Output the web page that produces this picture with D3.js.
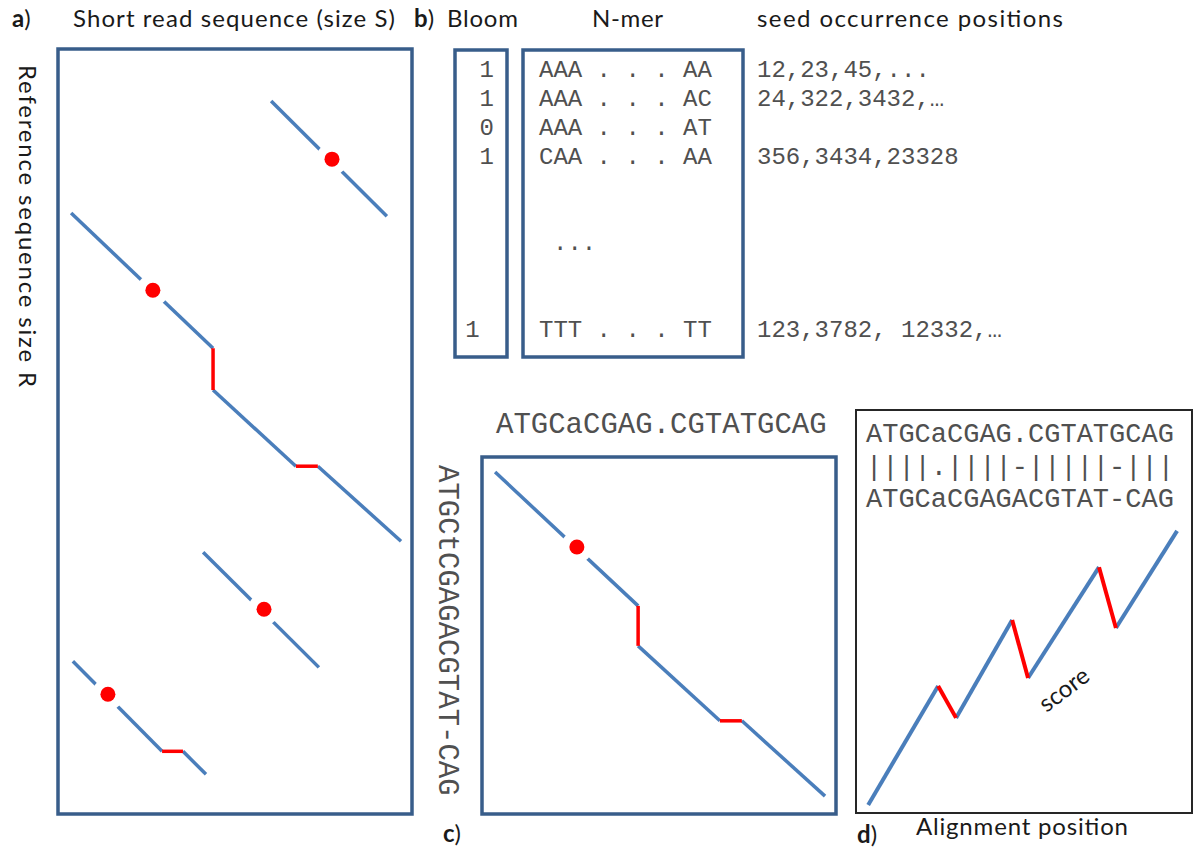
<!DOCTYPE html>
<html lang="en">
<head>
<meta charset="UTF-8" />
<title>Seed and extend alignment</title>
<script src="https://d3js.org/d3.v7.min.js"></script>
<style>
  body { margin: 0; background: #fff; }
  .lbl { font-family: Lato, "Open Sans", sans-serif; font-size: 24px; fill: #1a1a1a; }
  .mono { font-family: "Liberation Mono", "Courier New", monospace; fill: #505050; white-space: pre; }
  .frame { fill: none; stroke: #385d8a; stroke-width: 3.5; }
</style>
</head>
<body>
<script>
// ---- panel b: index table ----
var bloomBits = ["1", "1", "0", "1", "1 "];
var nmers = ["AAA . . . AA", "AAA . . . AC", "AAA . . . AT", "CAA . . . AA", "TTT . . . TT"];
var seedPositions = ["12,23,45,...", "24,322,3432,\u2026", "", "356,3434,23328", "123,3782, 12332,\u2026"];
var tableRows = [0, 1, 2, 3, 9];   // row slots, the gap is the "..." part

// ---- panel a: alignments of the read (x = read pos, y = reference pos) ----
// kinds: m = matching stretch (blue), g = indel (red)
var readHits = [
  { pts: [[60.2, 14.7], [92.9, 47.2]], kinds: ["m"], seed: [77.4, 31.1] },
  { pts: [[3.7, 46.3], [43.8, 84.5], [43.8, 96.3], [67.2, 117.8], [73.4, 117.8], [96.9, 139.0]],
    kinds: ["m", "g", "m", "g", "m"], seed: [26.8, 68.1] },
  { pts: [[41.0, 142.1], [73.7, 174.6]], kinds: ["m"], seed: [58.2, 158.2] },
  { pts: [[4.2, 172.9], [29.4, 198.3], [35.3, 198.3], [41.8, 204.8]],
    kinds: ["m", "g", "m"], seed: [14.1, 182.2] }
];

// ---- panel c: one alignment zoomed ----
var readSeq = "ATGCaCGAG.CGTATGCAG";
var refSeq = "ATGCtCGAGACGTAT-CAG";
var zoomHit = { pts: [[3.7, 4.2], [44.1, 41.7], [44.1, 52.9], [67.2, 73.9], [73.4, 73.9], [96.9, 95.0]],
  kinds: ["m", "g", "m", "g", "m"], seed: [26.8, 25.2] };

// ---- panel d: score along the alignment ----
var alignLines = ["ATGCaCGAG.CGTATGCAG", "||||.||||-|||||-|||", "ATGCaCGAGACGTAT-CAG"];
var alignPos = [3.6, 24.3, 29.6, 46.2, 50.9, 71.9, 76.9, 95.0];
var alignScore = [2.0, 31.5, 23.6, 47.9, 33.5, 61.0, 45.9, 70.0];
var scoreKinds = ["m", "g", "m", "g", "m", "g", "m"];

var W = 1194, H = 847;
var blue = "#4a7ebb", red = "#ff0000";

var svg = d3.select("body").append("svg")
    .attr("width", W).attr("height", H);

function label(x, y, bold, rest) {
  var t = svg.append("text").attr("class", "lbl").attr("x", x).attr("y", y);
  t.append("tspan").attr("font-weight", "bold").text(bold);
  t.append("tspan").text(rest);
  return t;
}

function drawHit(g, hit, xs, ys, w) {
  var segs = hit.kinds.map(function (k, i) { return { k: k, a: hit.pts[i], b: hit.pts[i + 1] }; });
  // blue first, red on top
  segs.sort(function (p, q) { return p.k === q.k ? 0 : (p.k === "m" ? -1 : 1); });
  g.selectAll(null).data(segs).enter().append("line")
    .attr("x1", function (d) { return xs(d.a[0]); })
    .attr("y1", function (d) { return ys(d.a[1]); })
    .attr("x2", function (d) { return xs(d.b[0]); })
    .attr("y2", function (d) { return ys(d.b[1]); })
    .attr("stroke", function (d) { return d.k === "m" ? blue : red; })
    .attr("stroke-width", w);
  if (hit.seed) {
    g.append("circle").attr("cx", xs(hit.seed[0])).attr("cy", ys(hit.seed[1]))
      .attr("r", 16).attr("fill", "#fff");
    g.append("circle").attr("cx", xs(hit.seed[0])).attr("cy", ys(hit.seed[1]))
      .attr("r", 7.5).attr("fill", red);
  }
}

// ================= panel a =================
var xA = d3.scaleLinear().domain([0, 100]).range([58, 412]);
var yA = d3.scaleLinear().domain([0, 216]).range([49, 814]);

label(12, 27, "a", ")");
svg.append("text").attr("class", "lbl").attr("x", 73).attr("y", 27)
  .attr("textLength", 322).attr("lengthAdjust", "spacing")
  .text("Short read sequence (size S)");
svg.append("text").attr("class", "lbl")
  .attr("transform", "translate(19,65) rotate(90)")
  .attr("textLength", 322).attr("lengthAdjust", "spacing")
  .text("Reference sequence size R");

svg.append("rect").attr("class", "frame")
  .attr("x", xA.range()[0]).attr("y", yA.range()[0])
  .attr("width", xA.range()[1] - xA.range()[0])
  .attr("height", yA.range()[1] - yA.range()[0]);

var gA = svg.append("g");
readHits.forEach(function (h) { drawHit(gA, h, xA, yA, 3.5); });

// ================= panel b =================
var yRow = d3.scaleLinear().domain([0, 9]).range([77, 337]);

label(414, 27, "b", ")");
svg.append("text").attr("class", "lbl").attr("x", 447).attr("y", 27)
  .attr("textLength", 71).attr("lengthAdjust", "spacing").text("Bloom");
svg.append("text").attr("class", "lbl").attr("x", 592).attr("y", 27)
  .attr("textLength", 71).attr("lengthAdjust", "spacing").text("N-mer");
svg.append("text").attr("class", "lbl").attr("x", 757).attr("y", 27)
  .attr("textLength", 306).attr("lengthAdjust", "spacing").text("seed occurrence positions");

svg.append("rect").attr("class", "frame").attr("x", 455).attr("y", 50)
  .attr("width", 52).attr("height", 307);
svg.append("rect").attr("class", "frame").attr("x", 523).attr("y", 50)
  .attr("width", 220).attr("height", 307);

svg.selectAll(".bloom").data(bloomBits).enter().append("text")
  .attr("class", "mono bloom").attr("font-size", 24)
  .attr("x", 494).attr("text-anchor", "end")
  .attr("y", function (d, i) { return yRow(tableRows[i]); })
  .text(function (d) { return d; });

svg.selectAll(".nmer").data(nmers).enter().append("text")
  .attr("class", "mono nmer").attr("font-size", 24)
  .attr("x", 539)
  .attr("y", function (d, i) { return yRow(tableRows[i]); })
  .text(function (d) { return d; });

svg.append("text").attr("class", "mono").attr("font-size", 24)
  .attr("x", 553).attr("y", yRow(6)).text("...");

svg.selectAll(".seedpos").data(seedPositions).enter().append("text")
  .attr("class", "mono seedpos").attr("font-size", 24)
  .attr("x", 757)
  .attr("y", function (d, i) { return yRow(tableRows[i]); })
  .text(function (d) { return d; });

// ================= panel c =================
var xC = d3.scaleLinear().domain([0, 100]).range([482, 836]);
var yC = d3.scaleLinear().domain([0, 100]).range([457, 814]);

svg.append("text").attr("class", "mono").attr("font-size", 29)
  .attr("x", 496).attr("y", 433).text(readSeq);
svg.append("text").attr("class", "mono").attr("font-size", 29)
  .attr("transform", "translate(439,465) rotate(90)").text(refSeq);

svg.append("rect").attr("class", "frame")
  .attr("x", xC.range()[0]).attr("y", yC.range()[0])
  .attr("width", xC.range()[1] - xC.range()[0])
  .attr("height", yC.range()[1] - yC.range()[0]);

drawHit(svg.append("g"), zoomHit, xC, yC, 3.5);
label(443, 842, "c", ")");

// ================= panel d =================
var xD = d3.scaleLinear().domain([0, 100]).range([856, 1194]);
var yD = d3.scaleLinear().domain([0, 100]).range([813, 410]);

svg.append("rect")
  .attr("x", 856).attr("y", 410).attr("width", 336).attr("height", 403)
  .attr("fill", "none").attr("stroke", "#262626").attr("stroke-width", 2);

svg.selectAll(".aln").data(alignLines).enter().append("text")
  .attr("class", "mono aln").attr("font-size", 27)
  .attr("x", 866)
  .attr("y", function (d, i) { return 442 + i * 32.5; })
  .text(function (d) { return d; });

var scoreHit = {
  pts: alignPos.map(function (p, i) { return [p, alignScore[i]]; }),
  kinds: scoreKinds
};
drawHit(svg.append("g"), scoreHit, xD, yD, 4);

svg.append("text").attr("class", "lbl").attr("font-size", 25)
  .attr("text-anchor", "middle")
  .attr("transform", "translate(1069,696) rotate(-37)")
  .text("score");

svg.append("text").attr("class", "lbl").attr("x", 916).attr("y", 835)
  .attr("textLength", 212).attr("lengthAdjust", "spacing").text("Alignment position");
label(857, 843, "d", ")");
</script>
</body>
</html>
